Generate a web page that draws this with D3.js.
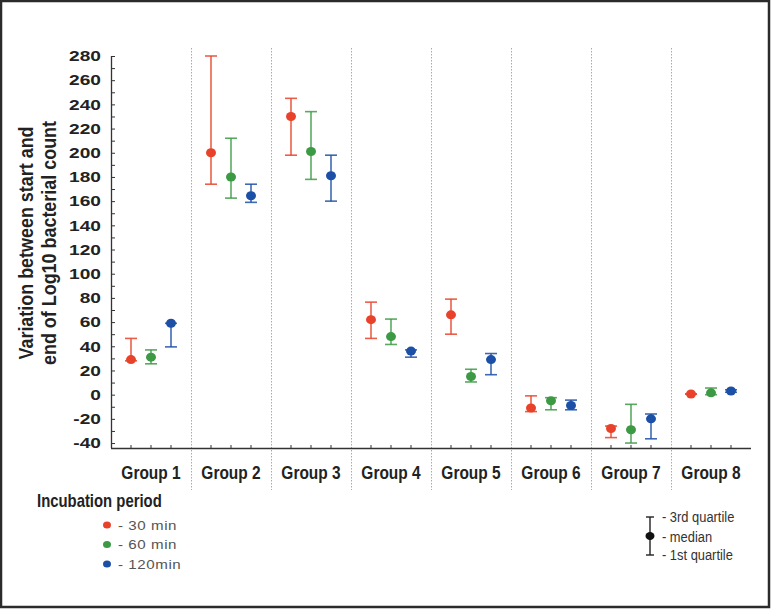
<!DOCTYPE html>
<html><head><meta charset="utf-8">
<script src="https://cdn.jsdelivr.net/npm/d3@7"></script>
<style>
html,body{margin:0;padding:0;background:#fff;}
svg{display:block;}
</style></head>
<body>
<svg id="chart" width="771" height="609"></svg>
<script>
const groups = ["Group 1","Group 2","Group 3","Group 4","Group 5","Group 6","Group 7","Group 8"];
const series = ["30 min","60 min","120min"];
const seriesColors = ["#e8432a","#3d9a44","#1c4fa6"];
const yTicks = [280,260,240,220,200,180,160,140,120,100,80,60,40,20,0,-20,-40];
// medians per series, per group
const median30 = [29, 200, 230, 62, 66, -11, -28, 0.5];
const median60 = [31, 180, 201, 48, 15, -5, -29, 1.5];
const median120 = [59, 164.5, 181, 36, 29, -9, -20, 3];
// 3rd quartile
const q3_30 = [46.5, 280, 245, 76.5, 79, -1, -26, 0.5];
const q3_60 = [37, 212, 234, 62.5, 21, -2.5, -8, 5.5];
const q3_120 = [59, 174, 198, 37, 34, -4.5, -16, 4];
// 1st quartile
const q1_30 = [28, 174, 198, 46.5, 50, -14, -35.5, 0.5];
const q1_60 = [25.5, 162.5, 178, 41.5, 10.5, -12.5, -40, 0];
const q1_120 = [39.5, 159, 160, 31, 16.5, -12.5, -36.5, 2];

const medians = [median30, median60, median120];
const q3s = [q3_30, q3_60, q3_120];
const q1s = [q1_30, q1_60, q1_120];

const data = [];
series.forEach((s, si) => groups.forEach((g, gi) => {
  data.push({group: g, series: s, si, med: medians[si][gi], q3: q3s[si][gi], q1: q1s[si][gi]});
}));

const svg = d3.select("#chart");
const W = 771, H = 609;
const mLeft = 111, mRight = 751, mTop = 56, mBottom = 448;
const condensed = "Liberation Sans, Arial, sans-serif";

// frame
svg.append("rect").attr("x",1).attr("y",1).attr("width",W-3).attr("height",H-3)
  .attr("fill","#fff").attr("stroke","#2b2b2b").attr("stroke-width",2.5);

const y = d3.scaleLinear().domain([-44.1, 280]).range([mBottom, mTop]);
const x = d3.scaleBand().domain(groups).range([mLeft, mRight]).padding(0);
const xs = d3.scalePoint().domain(series).range([0, x.bandwidth()]).padding(1);
const color = d3.scaleOrdinal().domain(series).range(seriesColors);

// group separators (dotted)
svg.append("g").selectAll("line").data(groups.slice(1)).join("line")
  .attr("x1", d => x(d)+0.5).attr("x2", d => x(d)+0.5)
  .attr("y1", 48).attr("y2", 490)
  .attr("stroke","#aaa").attr("stroke-width",1).attr("stroke-dasharray","1.5,1.5");

// y axis
const yAxis = d3.axisRight(y).tickValues(d3.range(-40, 281, 10)).tickSize(4).tickFormat("");
const gy = svg.append("g").attr("transform",`translate(${mLeft},0)`).call(yAxis);
gy.select(".domain").attr("d", `M0.5,${mTop}V${mBottom}`).attr("stroke","#333").attr("stroke-width",1.3);
gy.selectAll(".tick line").attr("stroke","#333");
svg.append("g").selectAll("text").data(yTicks).join("text")
  .attr("transform", d => `translate(101,${y(d)}) scale(1.32,1)`).attr("dy","0.36em")
  .attr("text-anchor","end")
  .attr("font-family","Liberation Sans, Arial, sans-serif").attr("font-weight","bold")
  .attr("font-size",14.5).attr("fill","#222")
  .text(d => d);

// x axis
svg.append("line").attr("x1",mLeft).attr("x2",mRight).attr("y1",mBottom+0.5).attr("y2",mBottom+0.5)
  .attr("stroke","#333").attr("stroke-width",1.3);
svg.append("g").selectAll("line").data(data).join("line")
  .attr("x1", d => x(d.group)+xs(d.series)).attr("x2", d => x(d.group)+xs(d.series))
  .attr("y1", mBottom).attr("y2", mBottom-3).attr("stroke","#333");
svg.append("g").selectAll("text").data(groups).join("text")
  .attr("transform", d => `translate(${x(d)+x.bandwidth()/2},479) scale(0.86,1)`)
  .attr("text-anchor","middle")
  .attr("font-family",condensed).attr("font-weight","bold")
  .attr("font-size",18).attr("fill","#222")
  .text(d => d);

// y title
const yt = svg.append("text").attr("transform","translate(0,243) rotate(-90) scale(0.92,1)")
  .attr("text-anchor","middle")
  .attr("font-family",condensed).attr("font-weight","bold")
  .attr("font-size",19.5).attr("fill","#222");
yt.append("tspan").attr("x",0).attr("y",33).text("Variation between start and");
yt.append("tspan").attr("x",0).attr("y",56).text("end of Log10 bacterial count");

// whiskers
const capW = 6;
const marks = svg.append("g").selectAll("g").data(data).join("g")
  .attr("transform", d => `translate(${x(d.group)+xs(d.series)},0)`);
marks.append("line").attr("y1", d => y(d.q3)).attr("y2", d => y(d.q1))
  .attr("stroke", d => color(d.series)).attr("stroke-width",1.6).attr("stroke-opacity",0.85);
marks.append("line").attr("x1",-capW).attr("x2",capW).attr("y1", d => y(d.q3)).attr("y2", d => y(d.q3))
  .attr("stroke", d => color(d.series)).attr("stroke-width",1.6).attr("stroke-opacity",0.85);
marks.append("line").attr("x1",-capW).attr("x2",capW).attr("y1", d => y(d.q1)).attr("y2", d => y(d.q1))
  .attr("stroke", d => color(d.series)).attr("stroke-width",1.6).attr("stroke-opacity",0.85);
marks.append("ellipse").attr("cy", d => y(d.med)).attr("rx",5).attr("ry",4.5)
  .attr("fill", d => color(d.series));

// legend
svg.append("text").attr("transform","translate(37,507) scale(0.85,1)")
  .attr("font-family",condensed).attr("font-weight","bold")
  .attr("font-size",17.5).attr("fill","#222").text("Incubation period");
const lg = svg.append("g").selectAll("g").data(series).join("g")
  .attr("transform",(d,i)=>`translate(107,${525+i*19.5})`);
lg.append("ellipse").attr("rx",4).attr("ry",3.5).attr("fill", d => color(d));
lg.append("text").attr("transform","translate(11,0) scale(1.12,1)").attr("dy","0.36em")
  .attr("font-family","Liberation Sans, Arial, sans-serif").attr("font-size",13.5)
  .attr("fill","#555").attr("letter-spacing",0.5).text(d => "- " + d);

// quartile key
const kx = 650;
const ky = svg.append("g");
ky.append("line").attr("x1",kx).attr("x2",kx).attr("y1",517).attr("y2",555).attr("stroke","#222").attr("stroke-width",1.4);
ky.append("line").attr("x1",kx-4).attr("x2",kx+4).attr("y1",517).attr("y2",517).attr("stroke","#222").attr("stroke-width",1.4);
ky.append("line").attr("x1",kx-4).attr("x2",kx+4).attr("y1",555).attr("y2",555).attr("stroke","#222").attr("stroke-width",1.4);
ky.append("ellipse").attr("cx",kx).attr("cy",536).attr("rx",4.5).attr("ry",4).attr("fill","#111");
const keyLabels = ["- 3rd quartile","- median","-  1st quartile"];
ky.selectAll("text").data(keyLabels).join("text")
  .attr("transform",(d,i)=>`translate(662,${[517,537,555][i]}) scale(0.86,1)`).attr("dy","0.36em")
  .attr("font-family",condensed)
  .attr("font-size",15).attr("fill","#333").text(d => d);
</script>
</body></html>
